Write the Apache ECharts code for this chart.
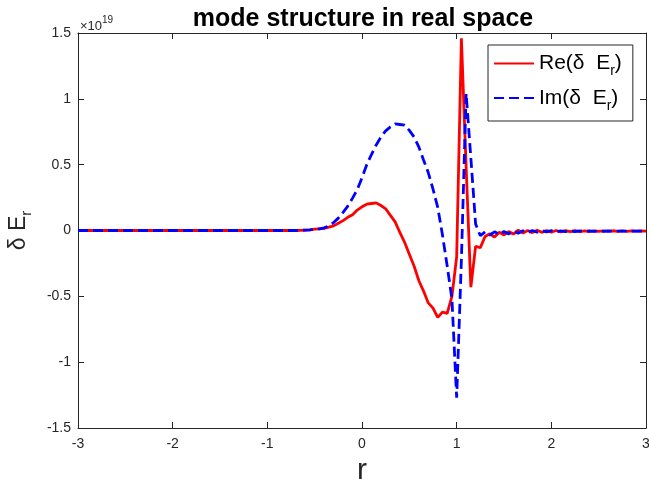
<!DOCTYPE html>
<html><head><meta charset="utf-8">
<script src="https://cdn.jsdelivr.net/npm/echarts@6/dist/echarts.min.js"></script>
<style>html,body{margin:0;padding:0;background:#fff}#c{width:649px;height:479px}</style>
</head><body><div id="c"></div>
<script>
// radial coordinate r
const r = [
-3,-2.95,-2.9,-2.85,-2.8,-2.75,-2.7,-2.65,-2.6,-2.55,
-2.5,-2.45,-2.4,-2.35,-2.3,-2.25,-2.2,-2.15,-2.1,-2.05,
-2,-1.95,-1.9,-1.85,-1.8,-1.75,-1.7,-1.65,-1.6,-1.55,
-1.5,-1.45,-1.4,-1.35,-1.3,-1.25,-1.2,-1.15,-1.1,-1.05,
-1,-0.95,-0.9,-0.85,-0.8,-0.75,-0.7,-0.65,-0.6,-0.55,
-0.5,-0.45,-0.4,-0.35,-0.3,-0.25,-0.2,-0.15,-0.1,-0.05,
0,0.05,0.1,0.15,0.2,0.25,0.3,0.35,0.4,0.45,
0.5,0.55,0.6,0.65,0.7,0.75,0.8,0.85,0.9,0.95,
1,1.05,1.1,1.15,1.2,1.25,1.3,1.35,1.4,1.45,
1.5,1.55,1.6,1.65,1.7,1.75,1.8,1.85,1.9,1.95,
2,2.05,2.1,2.15,2.2,2.25,2.3,2.35,2.4,2.45,
2.5,2.55,2.6,2.65,2.7,2.75,2.8,2.85,2.9,2.95,
3];
// Re(delta E_r), units of 1e19
const reE = [
0,0,0,0,0,0,0,0,0,0,
0,0,0,0,0,0,0,0,0,0,
0,0,0,0,0,0,0,0,0,0,
0,0,0,0,0,0,0,0,0,0,
0,0,0,0,0,0,0,0.001,0.003,0.005,
0.01,0.013,0.016,0.025,0.035,0.055,0.075,0.1,0.12,0.155,
0.18,0.2,0.205,0.21,0.19,0.165,0.115,0.065,-0.015,-0.09,
-0.18,-0.27,-0.38,-0.46,-0.55,-0.59,-0.66,-0.62,-0.63,-0.5,
-0.2,1.46,0.48,-0.43,-0.12,-0.13,-0.045,-0.025,-0.05,-0.014,
-0.034,-0.008,-0.027,0.003,-0.02,0,-0.016,0.002,-0.014,0,
-0.012,0,-0.01,-0.001,-0.009,-0.001,-0.008,-0.002,-0.008,-0.002,
-0.007,-0.002,-0.007,-0.002,-0.006,-0.003,-0.006,-0.003,-0.005,-0.003,
-0.004];
// Im(delta E_r), units of 1e19
const imE = [
0,0,0,0,0,0,0,0,0,0,
0,0,0,0,0,0,0,0,0,0,
0,0,0,0,0,0,0,0,0,0,
0,0,0,0,0,0,0,0,0,0,
0,0,0,0,0,0,0,0.001,0.003,0.005,
0.01,0.013,0.02,0.035,0.06,0.094,0.137,0.185,0.246,0.31,
0.4,0.5,0.577,0.65,0.71,0.757,0.787,0.81,0.805,0.8,
0.76,0.71,0.635,0.536,0.44,0.315,0.175,-0.034,-0.27,-0.52,
-1.27,-0.22,1.04,0.55,0.05,-0.04,-0.01,-0.034,-0.01,-0.03,
-0.008,-0.026,-0.004,-0.02,-0.002,-0.016,0,-0.013,-0.001,-0.011,
-0.001,-0.01,-0.002,-0.009,-0.002,-0.008,-0.003,-0.007,-0.003,-0.007,
-0.003,-0.006,-0.003,-0.006,-0.004,-0.005,-0.004,-0.005,-0.004,-0.005,
-0.004];
const xTickLabels = ['-3','-2','-1','0','1','2','3'];
const yTickLabels = ['-1.5','-1','-0.5','0','0.5','1','1.5'];
const seriesNames = ['Re', 'Im'];

const FONT = 'Liberation Sans, Arial, Helvetica, sans-serif';
const AX = '#262626';
const chart = echarts.init(document.getElementById('c'), null, {renderer: 'canvas'});
const xFmt = v => xTickLabels[Math.round(v + 3)];
const yFmt = v => yTickLabels[Math.round(v * 2 + 3)];
const tick = {show: true, inside: true, length: 6, lineStyle: {color: AX, width: 1}};
const line = {show: true, onZero: false, lineStyle: {color: AX, width: 1}};

chart.setOption({
  animation: false,
  backgroundColor: '#fff',
  title: {
    text: 'mode structure in real space',
    left: 358, top: 2, textAlign: 'center',
    textStyle: {fontFamily: FONT, fontWeight: 'bold', fontSize: 25, color: '#000'}
  },
  grid: {left: 78, right: 3, top: 33, bottom: 51, containLabel: false, outerBoundsMode: 'none'},
  legend: {
    orient: 'vertical', left: 488, top: 45,
    padding: [8, 11, 8, 5], itemGap: 9, itemWidth: 40, itemHeight: 26,
    borderColor: AX, borderWidth: 1, backgroundColor: '#fff',
    itemStyle: {opacity: 0},
    data: seriesNames,
    formatter: n => '{t|' + n + '(δ  E}{s|r}{t|)}',
    textStyle: {
      fontFamily: FONT, color: '#000',
      rich: {
        t: {fontFamily: FONT, fontSize: 21, color: '#000', lineHeight: 30, verticalAlign: 'middle'},
        s: {fontFamily: FONT, fontSize: 14, color: '#000', lineHeight: 30, verticalAlign: 'bottom'}
      }
    }
  },
  graphic: [{
    type: 'text', left: 80, top: 15,
    style: {
      text: '{a|×10}{b|19}',
      rich: {
        a: {fontFamily: FONT, fontSize: 13, fill: AX, verticalAlign: 'bottom', lineHeight: 18},
        b: {fontFamily: FONT, fontSize: 10, fill: AX, verticalAlign: 'top', lineHeight: 18}
      }
    }
  }],
  xAxis: [{
    type: 'value', min: -3, max: 3, interval: 1, position: 'bottom',
    axisLine: line, axisTick: tick, splitLine: {show: false},
    axisLabel: {formatter: xFmt, margin: 9, fontFamily: FONT, fontSize: 14, color: AX},
    name: 'r', nameLocation: 'middle', nameGap: 16,
    nameTextStyle: {fontFamily: FONT, fontSize: 30, color: AX}
  }, {
    type: 'value', min: -3, max: 3, interval: 1, position: 'top',
    axisLine: line, axisTick: tick, splitLine: {show: false}, axisLabel: {show: false}
  }],
  yAxis: [{
    type: 'value', min: -1.5, max: 1.5, interval: 0.5, position: 'left',
    axisLine: line, axisTick: tick, splitLine: {show: false},
    axisLabel: {formatter: yFmt, margin: 7, fontFamily: FONT, fontSize: 14, color: AX},
    name: '{d|δ E}{s|r}', nameLocation: 'middle', nameGap: 44, nameRotate: 90,
    nameTextStyle: {
      rich: {
        d: {fontFamily: FONT, fontSize: 23, color: AX, lineHeight: 30, verticalAlign: 'middle'},
        s: {fontFamily: FONT, fontSize: 15, color: AX, lineHeight: 30, verticalAlign: 'bottom'}
      }
    }
  }, {
    type: 'value', min: -1.5, max: 1.5, interval: 0.5, position: 'right',
    axisLine: line, axisTick: tick, splitLine: {show: false}, axisLabel: {show: false}
  }],
  series: [{
    name: seriesNames[0], type: 'line', showSymbol: false, symbol: 'none',
    data: r.map((x, i) => [x, reE[i]]),
    lineStyle: {color: '#ff0000', width: 2.8}, itemStyle: {color: '#ff0000'}, z: 2
  }, {
    name: seriesNames[1], type: 'line', showSymbol: false, symbol: 'none',
    data: r.map((x, i) => [x, imE[i]]),
    lineStyle: {color: '#0000ff', width: 2.8, type: [10, 5]}, itemStyle: {color: '#0000ff'}, z: 3
  }]
});
</script>
</body></html>
